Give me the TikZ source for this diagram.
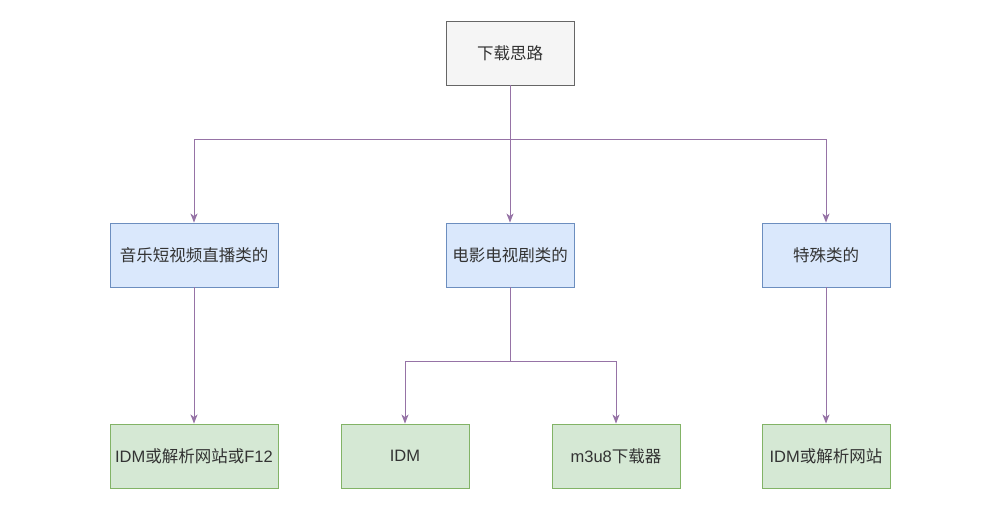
\documentclass[tikz,border=0pt]{standalone}
\usepackage{fontspec}
\setmainfont{Noto Sans CJK SC}
\newfontfamily\latfont{Liberation Sans}
\usetikzlibrary{arrows.meta}
\definecolor{rootfill}{HTML}{F5F5F5}
\definecolor{rootline}{HTML}{666666}
\definecolor{bluefill}{HTML}{DAE8FC}
\definecolor{blueline}{HTML}{6C8EBF}
\definecolor{greenfill}{HTML}{D5E8D4}
\definecolor{greenline}{HTML}{82B366}
\definecolor{linkcolor}{HTML}{9673A6}
\definecolor{textcolor}{HTML}{333333}
\begin{document}
\begin{tikzpicture}[x=1pt, y=-1pt,
    box/.style={draw, line width=0.9pt, minimum height=64pt, minimum width=128pt,
        inner sep=0pt, text=textcolor, font=\fontsize{16.5}{19}\selectfont},
    rootbox/.style={box, fill=rootfill, draw=rootline},
    catbox/.style={box, fill=bluefill, draw=blueline},
    toolbox/.style={box, fill=greenfill, draw=greenline},
    link/.style={draw=linkcolor, line width=1pt,
        -{Stealth[length=9pt, width=7pt, inset=2.5pt]}}]
    \useasboundingbox (0,0) rectangle (1002,505);
    \node[rootbox] (root) at (510,53) {下载思路};
    \node[catbox, minimum width=168pt] (music) at (194,255) {音乐短视频直播类的};
    \node[catbox] (film) at (510,255) {电影电视剧类的};
    \node[catbox] (special) at (826,255) {特殊类的};
    \node[toolbox, minimum width=168pt] (webf) at (194,456) {{\latfont IDM}或解析网站或{\latfont F12}};
    \node[toolbox] (idm) at (405,456) {{\latfont IDM}};
    \node[toolbox] (m3u8) at (616,456) {{\latfont m3u8}下载器};
    \node[toolbox] (web) at (826,456) {{\latfont IDM}或解析网站};
    \coordinate (split) at (510,140);
    \coordinate (filmsplit) at (510,361);
    \draw[link] (root.south) -- (split) -| (music.north);
    \draw[link] (split) -| (special.north);
    \draw[link] (split) -- (film.north);
    \draw[link] (music.south) -- (webf.north);
    \draw[link] (film.south) -- (filmsplit) -| (idm.north);
    \draw[link] (filmsplit) -| (m3u8.north);
    \draw[link] (special.south) -- (web.north);
\end{tikzpicture}
\end{document}
